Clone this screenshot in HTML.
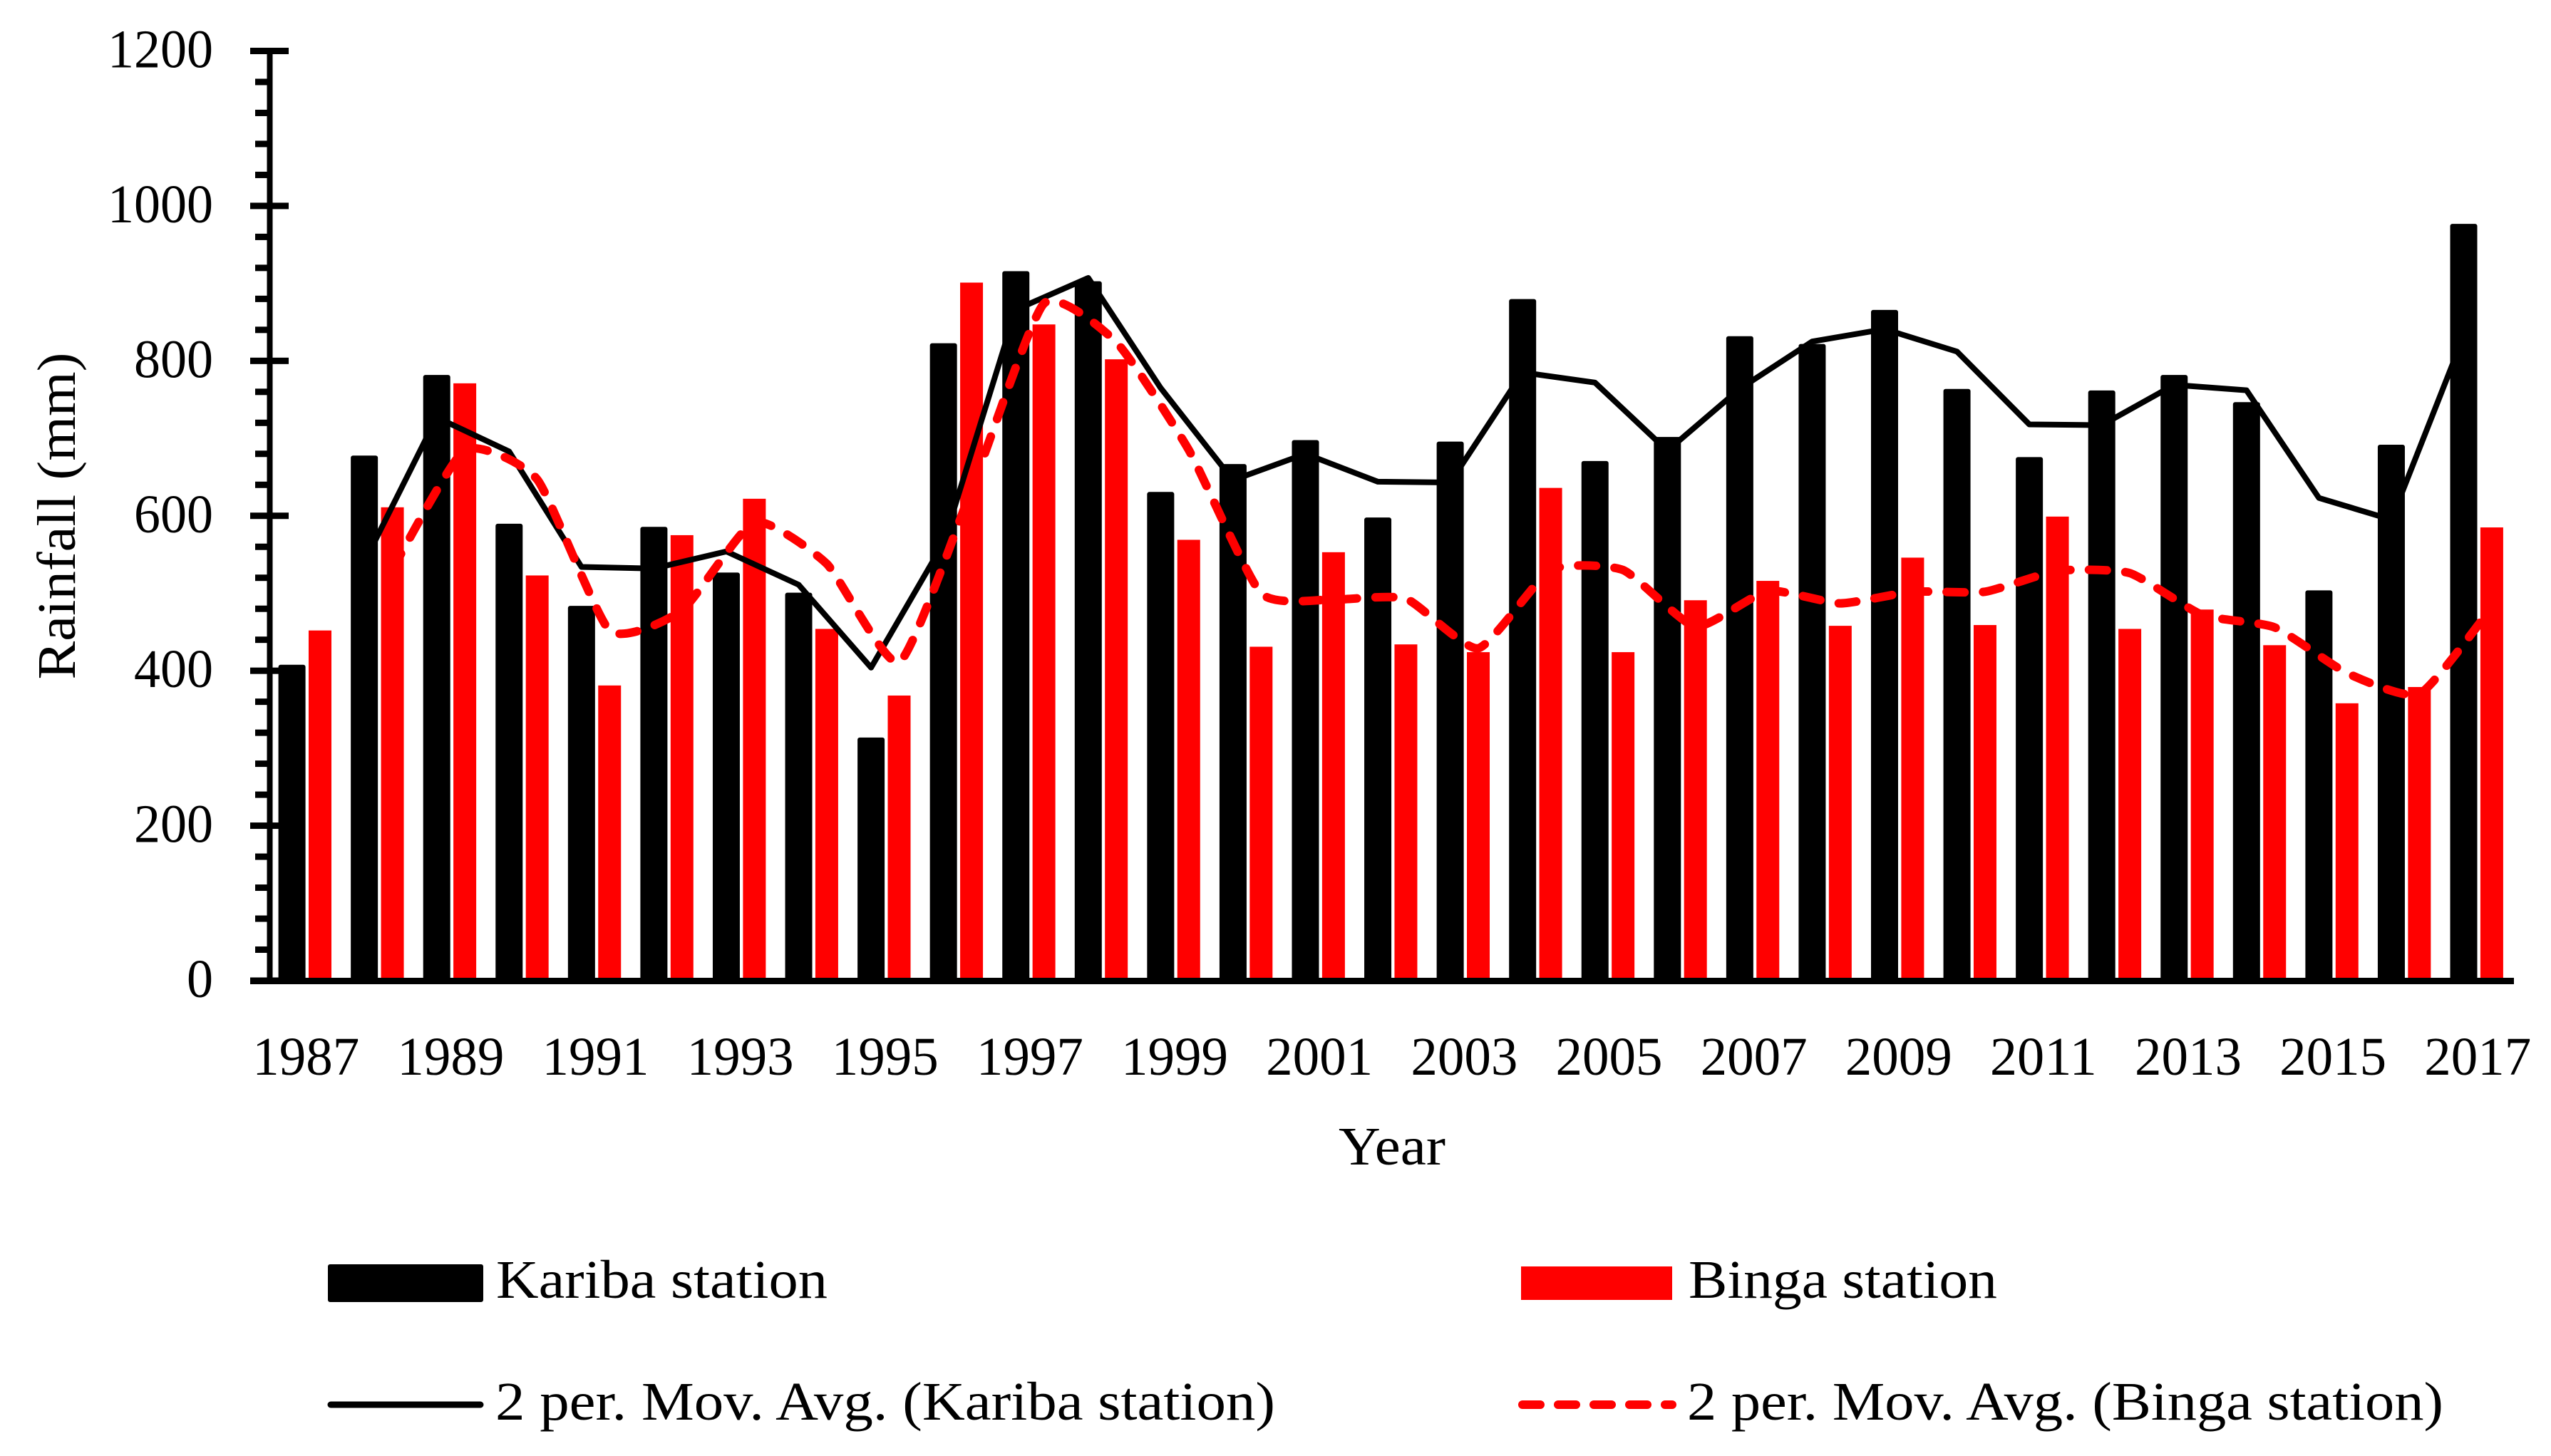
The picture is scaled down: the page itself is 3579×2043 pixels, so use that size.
<!DOCTYPE html>
<html lang="en">
<head>
<meta charset="utf-8">
<title>Rainfall at Kariba and Binga stations, 1987–2017</title>
<style>
  html, body { margin: 0; padding: 0; background: #fff; }
  body { width: 3579px; height: 2043px; overflow: hidden; }
  svg { display: block; }
  text { font-family: "Liberation Serif", serif; fill: #000; font-size: 76px; }
</style>
</head>
<body>
<svg id="chart" xmlns="http://www.w3.org/2000/svg" width="3579" height="2043" viewBox="0 0 3579 2043">
  <rect x="0" y="0" width="3579" height="2043" fill="#fff"/>
  <g id="bars"></g>
  <g id="lines"></g>
  <g id="axes"></g>

  <text transform="translate(105 724) rotate(-90)" text-anchor="middle" textLength="459" lengthAdjust="spacingAndGlyphs">Rainfall (mm)</text>
  <text x="1953" y="1634" text-anchor="middle" textLength="150" lengthAdjust="spacingAndGlyphs">Year</text>

  <g>
    <g>
      <rect x="463" y="1777" width="212" height="47" fill="#000" stroke="#000" stroke-width="6" stroke-linejoin="round"/>
      <text x="696" y="1821" textLength="465" lengthAdjust="spacingAndGlyphs">Kariba station</text>
    </g>
    <g>
      <rect x="2134" y="1777" width="212" height="47" fill="#f00"/>
      <text x="2369" y="1821" textLength="433" lengthAdjust="spacingAndGlyphs">Binga station</text>
    </g>
    <g>
      <line x1="464" y1="1971" x2="674" y2="1971" stroke="#000" stroke-width="9" stroke-linecap="round"/>
      <text x="695" y="1992" textLength="1094" lengthAdjust="spacingAndGlyphs">2 per. Mov. Avg. (Kariba station)</text>
    </g>
    <g>
      <line x1="2136" y1="1971" x2="2346" y2="1971" stroke="#f00" stroke-width="12" stroke-linecap="round" stroke-dasharray="25 25"/>
      <text x="2367" y="1992" textLength="1061" lengthAdjust="spacingAndGlyphs">2 per. Mov. Avg. (Binga station)</text>
    </g>
  </g>
</svg>

<script>
const years = [1987,1988,1989,1990,1991,1992,1993,1994,1995,1996,1997,1998,1999,2000,2001,2002,2003,2004,2005,2006,2007,2008,2009,2010,2011,2012,2013,2014,2015,2016,2017];
const karibaRain = [405,675,779,587,481,583,524,498,311,820,913,900,628,664,695,595,693,877,668,699,829,819,863,761,673,759,779,744,501,689,974];
const bingaRain = [452,611,771,523,381,575,622,454,368,901,847,802,569,431,553,434,424,636,424,491,516,458,546,459,599,454,479,433,358,379,585];
const karibaAverage = [null,540,727,683,534,532,554,511,404,565,866,907,765,646,680,644,643,785,772,684,764,825,841,812,718,717,769,762,623,595,832];
const bingaAverage = [null,531,685,647,452,478,592,538,411,634,874,824,685,500,492,493,429,530,530,457,503,487,502,502,529,526,472,456,397,370,482];
const yTickValues = [0,200,400,600,800,1000,1200];
const yMinorStep = 40;
const xTickYears = [1987,1989,1991,1993,1995,1997,1999,2001,2003,2005,2007,2009,2011,2013,2015,2017];

const SVG_NS = 'http://www.w3.org/2000/svg';
const plotLeft = 378.5, plotRight = 3527, plotBottom = 1376, plotTop = 71.5, yMax = 1200;
const band = (plotRight - plotLeft) / years.length;
const barOffset = 19.7, barWidth = 32;
const smoothing = 0.09;

function x(i) { return plotLeft + band * (i + 0.5); }
function y(v) { return plotBottom - (v / yMax) * (plotBottom - plotTop); }

function make(tag, attrs, parent) {
  const el = document.createElementNS(SVG_NS, tag);
  for (const k in attrs) el.setAttribute(k, attrs[k]);
  parent.appendChild(el);
  return el;
}

const barsGroup = document.getElementById('bars');
const linesGroup = document.getElementById('lines');
const axesGroup = document.getElementById('axes');

years.forEach(function (year, i) {
  const kx = x(i) - barOffset;
  const bx = x(i) + barOffset;
  const k = make('rect', { x: kx - barWidth / 2, y: y(karibaRain[i]), width: barWidth, height: plotBottom - y(karibaRain[i]), fill: '#000', stroke: '#000', 'stroke-width': 6, 'stroke-linejoin': 'round' }, barsGroup);
  
  
  const b = make('rect', { x: bx - barWidth / 2, y: y(bingaRain[i]), width: barWidth, height: plotBottom - y(bingaRain[i]), fill: '#f00' }, barsGroup);
  
  
});

function straightPath(points) {
  return points.map(function (p, i) { return (i ? 'L' : 'M') + p[0].toFixed(1) + ' ' + p[1].toFixed(1); }).join(' ');
}

function smoothPath(points) {
  let d = 'M' + points[0][0].toFixed(1) + ' ' + points[0][1].toFixed(1);
  for (let i = 0; i < points.length - 1; i++) {
    const p0 = points[Math.max(i - 1, 0)];
    const p1 = points[i];
    const p2 = points[i + 1];
    const p3 = points[Math.min(i + 2, points.length - 1)];
    const c1x = p1[0] + (p2[0] - p0[0]) * smoothing;
    const c1y = p1[1] + (p2[1] - p0[1]) * smoothing;
    const c2x = p2[0] - (p3[0] - p1[0]) * smoothing;
    const c2y = p2[1] - (p3[1] - p1[1]) * smoothing;
    d += ' C' + c1x.toFixed(1) + ' ' + c1y.toFixed(1) + ' ' + c2x.toFixed(1) + ' ' + c2y.toFixed(1) + ' ' + p2[0].toFixed(1) + ' ' + p2[1].toFixed(1);
  }
  return d;
}

const karibaPoints = [];
karibaAverage.forEach(function (v, i) { if (v !== null) karibaPoints.push([x(i) - barOffset, y(v)]); });
const bingaPoints = [];
bingaAverage.forEach(function (v, i) { if (v !== null) bingaPoints.push([x(i) + barOffset, y(v)]); });

const karibaLine = make('path', { d: straightPath(karibaPoints), fill: 'none', stroke: '#000', 'stroke-width': 8, 'stroke-linejoin': 'round', 'stroke-linecap': 'round' }, linesGroup);



const bingaLine = make('path', { d: smoothPath(bingaPoints), fill: 'none', stroke: '#f00', 'stroke-width': 12, 'stroke-linejoin': 'round', 'stroke-linecap': 'round', 'stroke-dasharray': '25 26' }, linesGroup);



const yAxisLine = make('rect', { x: plotLeft - 4, y: plotTop - 4.5, width: 8, height: plotBottom - plotTop + 9, fill: '#000' }, axesGroup);



const xAxisLine = make('rect', { x: 351, y: plotBottom - 4, width: plotRight - 351, height: 9, fill: '#000' }, axesGroup);



for (let v = 0; v < yMax; v += yMinorStep) {
  if (v % 200 === 0) continue;
  const minor = make('rect', { x: 358, y: y(v) - 4.5, width: 20, height: 9, fill: '#000' }, axesGroup);
  
  
}

yTickValues.forEach(function (v) {
  const tick = make('rect', { x: 351, y: y(v) - 4.5, width: 54, height: 9, fill: '#000' }, axesGroup);
  
  
  const label = String(v);
  const t = make('text', { x: 299, y: y(v) + 23, 'text-anchor': 'end', textLength: 37 * label.length, lengthAdjust: 'spacingAndGlyphs' }, axesGroup);
  t.textContent = label;
  
  
});

xTickYears.forEach(function (year) {
  const i = years.indexOf(year);
  const t = make('text', { x: x(i), y: 1508, 'text-anchor': 'middle', textLength: 150, lengthAdjust: 'spacingAndGlyphs' }, axesGroup);
  t.textContent = String(year);
  
  
});
</script>
</body>
</html>
